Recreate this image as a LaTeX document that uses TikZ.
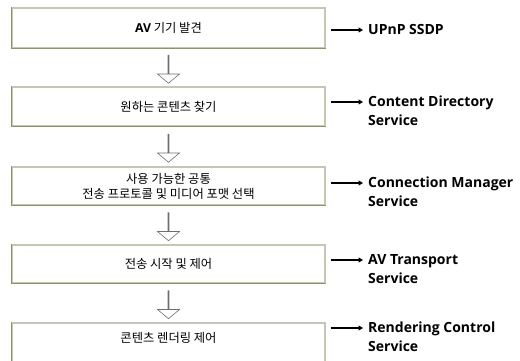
\documentclass[tikz,border=0pt]{standalone}
\usepackage{fontspec}
\setmainfont{Noto Sans CJK KR}
\newfontfamily\lab{Open Sans}
\usetikzlibrary{arrows.meta,shapes.arrows,calc}
\definecolor{boxlight}{RGB}{196,200,178}
\definecolor{boxdark}{RGB}{138,150,104}
\definecolor{hol}{RGB}{110,110,110}
\begin{document}
\begin{tikzpicture}[x=1pt,y={(0,-1pt)},
  box/.style={draw=boxlight,line width=1.1pt,fill=white,minimum width=313pt,inner sep=0pt,align=center,
    font=\fontsize{12.3}{15}\selectfont},
  edge/.style={draw=boxdark,line width=1.1pt},
  hollow/.style={single arrow,draw=hol,line width=0.6pt,fill=white,shape border rotate=270,
    minimum height=28pt,minimum width=22pt,single arrow head extend=6pt,single arrow tip angle=100,inner sep=0pt},
  rarr/.style={line width=1.1pt,-{Triangle[length=4.5pt,width=5pt]}},
  labl/.style={anchor=north west,align=left,inner sep=0pt,font=\lab\bfseries\fontsize{14}{19}\selectfont}]
\useasboundingbox (0,0) rectangle (520,360);
\clip (0,0) rectangle (520,360);
% boxes
\node[box,minimum height=40pt] (b1) at (168.5,28) {{\lab\bfseries AV} 기기 발견};
\node[box,minimum height=39pt] (b2) at (168.5,106.5) {원하는 콘텐츠 찾기};
\node[box,minimum height=38pt] (b3) at (168.5,186) {사용 가능한 공통\\전송 프로토콜 및 미디어 포맷 선택};
\node[box,minimum height=38pt] (b4) at (168.5,264) {전송 시작 및 제어};
\node[box,minimum height=44pt] (b5) at (168.5,345) {};
\node[font=\fontsize{12.3}{15}\selectfont,inner sep=0pt] (t5) at (168.5,338) {콘텐츠 렌더링 제어};
\foreach \b in {b1,b2,b3,b4,b5}{
  \draw[edge] (\b.north west) -- (\b.south west) -- (\b.south east);
}
% hollow arrows
\node[hollow] (h1) at ($(b1.south)!0.5!(b2.north)+(0,1.5)$) {};
\node[hollow] (h2) at ($(b2.south)!0.5!(b3.north)+(0,1.5)$) {};
\node[hollow] (h3) at ($(b3.south)!0.5!(b4.north)+(0,1.5)$) {};
\node[hollow] (h4) at ($(b4.south)!0.5!(b5.north)+(0,1.5)$) {};
% labels
\node[labl] (l1) at (368,24) {UPnP SSDP};
\node[labl] (l2) at (368,96) {Content Directory\\Service};
\node[labl] (l3) at (368,177) {Connection Manager\\Service};
\node[labl] (l4) at (368,254) {AV Transport\\Service};
\node[labl] (l5) at (368,322) {Rendering Control\\Service};
\foreach \b/\l in {b1/l1,b2/l2,b3/l3,b4/l4,b5/l5}{
  \draw[rarr] ($(\b.east |- \l.north west)+(5,6)$) -- ($(\l.north west)+(-5,6)$);
}
\end{tikzpicture}
\end{document}
